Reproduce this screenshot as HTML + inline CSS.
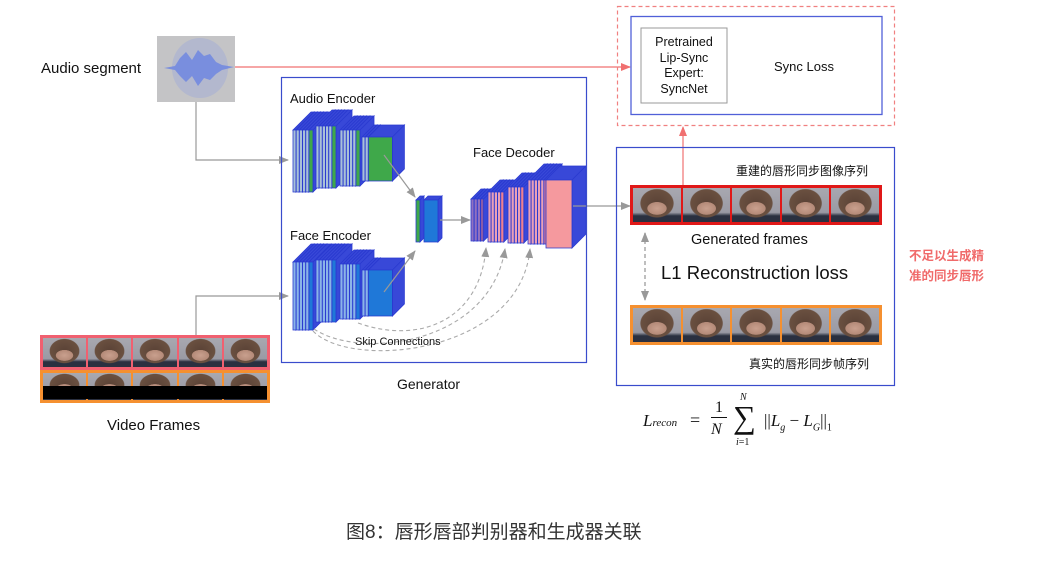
<!DOCTYPE html>
<html><head><meta charset="utf-8">
<style>
html,body{margin:0;padding:0;background:#fff;}
body{width:1041px;height:577px;position:relative;overflow:hidden;font-family:"Liberation Sans","Noto Sans CJK SC",sans-serif;}
.t{position:absolute;white-space:nowrap;color:#111;}
.row{position:absolute;display:flex;box-sizing:border-box;}
.f{flex:1;box-sizing:border-box;background:
radial-gradient(ellipse 28% 26% at 50% 60%, #c9a08e 0%, #b48a78 70%, transparent 74%),
radial-gradient(ellipse 48% 58% at 50% 45%, #5a4236 0%, #6a5040 70%, transparent 74%),
linear-gradient(#a8a8b0,#9a9aa4 72%,#2a3040 82%,#2a3040);}
</style></head><body>

<div class="t" style="left:41px;top:60px;font-size:15px;">Audio segment</div>
<div style="position:absolute;left:157px;top:36px;width:78px;height:66px;background:#c4c4c6;"></div>
<svg style="position:absolute;left:0;top:0" width="1041" height="577">
  <defs>
    <marker id="ag" markerWidth="10" markerHeight="8" refX="9" refY="4" orient="auto" markerUnits="userSpaceOnUse"><path d="M0,0L10,4L0,8z" fill="#999"/></marker>
    <marker id="ar" markerWidth="10" markerHeight="8" refX="9" refY="4" orient="auto" markerUnits="userSpaceOnUse"><path d="M0,0L10,4L0,8z" fill="#f07070"/></marker>
    <marker id="ag2" markerWidth="10" markerHeight="8" refX="1" refY="4" orient="auto" markerUnits="userSpaceOnUse"><path d="M10,0L0,4L10,8z" fill="#999"/></marker>
  </defs>
  <ellipse cx="200" cy="68" rx="28" ry="30" fill="#8a9be0" opacity="0.3"/>
  <g fill="#6f86e0" opacity="0.85">
    <path d="M164,68 L175,66 L180,58 L186,52 L192,60 L198,50 L204,56 L210,54 L216,62 L222,65 L234,67 L222,70 L216,74 L210,80 L204,78 L198,86 L192,76 L186,82 L180,76 L175,70 Z"/>
  </g>
  <g id="stacks"></g>
  <line x1="235" y1="67" x2="630" y2="67" stroke="#f07070" stroke-width="1.2" marker-end="url(#ar)"/>
  <polyline points="196,102 196,160 288,160" fill="none" stroke="#999" stroke-width="1.2" marker-end="url(#ag)"/>
  <polyline points="196,336 196,296 288,296" fill="none" stroke="#999" stroke-width="1.2" marker-end="url(#ag)"/>
  <line x1="384" y1="155" x2="415" y2="197" stroke="#999" stroke-width="1.2" marker-end="url(#ag)"/>
  <line x1="384" y1="292" x2="415" y2="251" stroke="#999" stroke-width="1.2" marker-end="url(#ag)"/>
  <line x1="440" y1="220" x2="470" y2="220" stroke="#999" stroke-width="1.2" marker-end="url(#ag)"/>
  <line x1="573" y1="206" x2="630" y2="206" stroke="#999" stroke-width="1.2" marker-end="url(#ag)"/>
  <g fill="none" stroke="#aaa" stroke-width="1.1" stroke-dasharray="4,3">
    <path d="M358,323 C420,345 480,320 486,248" marker-end="url(#ag)"/>
    <path d="M314,329 C360,360 490,345 505,249" marker-end="url(#ag)"/>
    <path d="M313,331 C350,370 520,355 530,249" marker-end="url(#ag)"/>
  </g>
  <line x1="683" y1="185" x2="683" y2="127" stroke="#f07070" stroke-width="1.2" marker-end="url(#ar)"/>
  <line x1="645" y1="233" x2="645" y2="300" stroke="#aaa" stroke-width="1.5" stroke-dasharray="4,3" marker-end="url(#ag)" marker-start="url(#ag2)"/>
  <rect x="281.5" y="77.5" width="305" height="285" fill="none" stroke="#3a4ccc" stroke-width="1.2"/>
  <rect x="617.5" y="6.5" width="277" height="119" fill="none" stroke="#f08080" stroke-width="1.2" stroke-dasharray="4,3"/>
  <rect x="631" y="16.5" width="251" height="98" fill="none" stroke="#5060d8" stroke-width="1.3"/>
  <rect x="641" y="28" width="86" height="75" fill="none" stroke="#999" stroke-width="1"/>
  <rect x="616.5" y="147.5" width="278" height="238" fill="none" stroke="#3a4ccc" stroke-width="1.2"/>
</svg>

<div class="t" style="left:641px;top:35px;width:86px;text-align:center;font-size:12.5px;line-height:15.5px;">Pretrained<br>Lip-Sync<br>Expert:<br>SyncNet</div>
<div class="t" style="left:774px;top:59px;font-size:13px;">Sync Loss</div>

<div class="t" style="left:290px;top:91px;font-size:13px;">Audio Encoder</div>
<div class="t" style="left:290px;top:228px;font-size:13px;">Face Encoder</div>
<div class="t" style="left:473px;top:145px;font-size:13px;">Face Decoder</div>
<div class="t" style="left:355px;top:336px;font-size:11px;">Skip Connections</div>
<div class="t" style="left:397px;top:376px;font-size:14px;">Generator</div>

<div class="row" style="left:40px;top:335px;width:230px;height:35px;border:3px solid #f06070;background:#f06070;gap:2px;">
<div class="f"></div><div class="f"></div><div class="f"></div><div class="f"></div><div class="f"></div></div>
<div class="row" style="left:40px;top:370px;width:230px;height:33px;border:3px solid #f59030;background:#f59030;gap:2px;">
<div class="f"></div><div class="f"></div><div class="f"></div><div class="f"></div><div class="f"></div></div>
<div style="position:absolute;left:43px;top:386px;width:224px;height:13px;background:#000;"></div>
<div class="t" style="left:107px;top:417px;font-size:15px;">Video Frames</div>

<div class="t" style="left:736px;top:162px;font-size:12px;">重建的唇形同步图像序列</div>
<div class="row" style="left:630px;top:185px;width:252px;height:40px;border:3px solid #e01818;background:#e01818;gap:2px;">
<div class="f"></div><div class="f"></div><div class="f"></div><div class="f"></div><div class="f"></div></div>
<div class="t" style="left:691px;top:232px;font-size:14.5px;">Generated frames</div>
<div class="t" style="left:661px;top:262px;font-size:18.5px;">L1 Reconstruction loss</div>
<div class="row" style="left:630px;top:305px;width:252px;height:40px;border:3px solid #f59030;background:#f59030;gap:2px;">
<div class="f"></div><div class="f"></div><div class="f"></div><div class="f"></div><div class="f"></div></div>
<div class="t" style="left:749px;top:355px;font-size:12px;">真实的唇形同步帧序列</div>
<div class="t" style="left:909px;top:246px;font-size:12.5px;font-weight:bold;color:#f06a6a;line-height:20px;">不足以生成精<br>准的同步唇形</div>

<div class="t" style="left:643px;top:411px;font-family:'Liberation Serif',serif;font-size:17px;font-style:italic;">L<span style="font-size:11px">recon</span></div>
<div class="t" style="left:690px;top:410px;font-family:'Liberation Serif',serif;font-size:18px;">=</div>
<div class="t" style="left:711px;top:398px;font-family:'Liberation Serif',serif;font-size:16px;width:16px;text-align:center;border-bottom:1px solid #111;line-height:19px;">1</div>
<div class="t" style="left:711px;top:421px;font-family:'Liberation Serif',serif;font-size:16px;font-style:italic;">N</div>
<div class="t" style="left:740px;top:392px;font-family:'Liberation Serif',serif;font-size:10px;font-style:italic;">N</div>
<div class="t" style="left:733px;top:400px;font-family:'Liberation Serif',serif;font-size:32px;line-height:34px;">∑</div>
<div class="t" style="left:736px;top:437px;font-family:'Liberation Serif',serif;font-size:10px;"><i>i</i>=1</div>
<div class="t" style="left:764px;top:411px;font-family:'Liberation Serif',serif;font-size:17px;">||<i>L</i><sub style="font-size:10px"><i>g</i></sub> − <i>L</i><sub style="font-size:10px"><i>G</i></sub>||<sub style="font-size:10px">1</sub></div>

<div class="t" style="left:346px;top:517px;font-size:19px;color:#333;">图8：唇形唇部判别器和生成器关联</div>

<script>
var g=document.getElementById('stacks'),NS='http://www.w3.org/2000/svg';
function P(pts,fill){var p=document.createElementNS(NS,'polygon');p.setAttribute('points',pts);p.setAttribute('fill',fill);p.setAttribute('stroke','#2a3ad0');p.setAttribute('stroke-width','0.8');g.appendChild(p);}
function slab(x,y,w,h,d,fill,top){P(x+','+y+' '+(x+d)+','+(y-d)+' '+(x+d+w)+','+(y-d)+' '+(x+w)+','+y,top);P((x+w)+','+y+' '+(x+w+d)+','+(y-d)+' '+(x+w+d)+','+(y+h-d)+' '+(x+w)+','+(y+h),top);P(x+','+y+' '+(x+w)+','+y+' '+(x+w)+','+(y+h)+' '+x+','+(y+h),fill);}
function stack(x,y,h,n,slabFill,endW,endFill,d){for(var i=0;i<n;i++)slab(x+i*3.2,y,3,h,d,slabFill,'#3848d8');slab(x+n*3.2,y,endW,h,d,endFill,'#3848d8');}
stack(293,130,62,5,'#a8c0d8',4,'#3fa84a',18);
stack(316,126,62,5,'#a8c0d8',4,'#3fa84a',16);
stack(340,130,56,5,'#a8c0d8',4,'#3fa84a',14);
stack(362,137,44,2,'#a8c0d8',24,'#3fa84a',12);
stack(293,262,68,5,'#8ab4e8',4,'#1f78d8',18);
stack(316,260,62,5,'#8ab4e8',4,'#1f78d8',16);
stack(340,264,55,5,'#8ab4e8',4,'#1f78d8',14);
stack(362,270,46,2,'#8ab4e8',24,'#1f78d8',12);
slab(416,200,4,42,4,'#3fa84a','#3848d8');
slab(424,200,14,42,4,'#1f78d8','#3848d8');
stack(471,199,42,3,'#9070c0',3,'#8a5aa8',10);
stack(488,192,50,4,'#e8a0b8',3,'#f08090',12);
stack(508,187,56,4,'#e8a0b8',3,'#f08090',14);
stack(528,180,64,5,'#e8a0b8',2,'#f08090',16);
slab(546,180,26,68,14,'#f5999e','#3848d8');
</script>
</body></html>
